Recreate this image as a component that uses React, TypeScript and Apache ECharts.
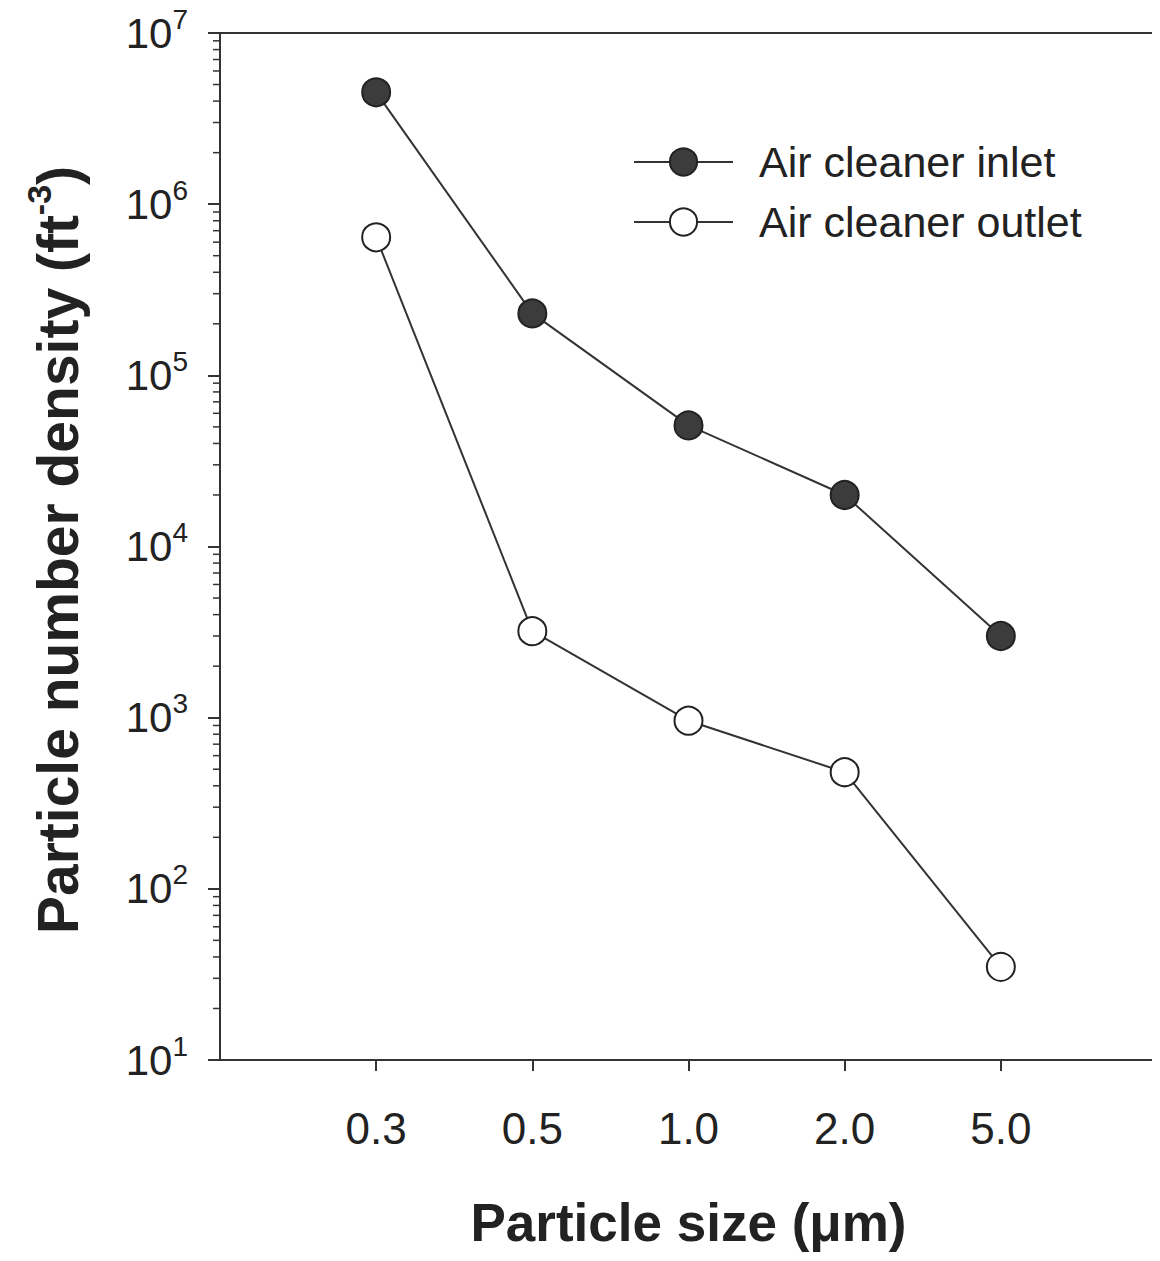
import React, { useEffect, useRef } from "react";
import * as echarts from "echarts";

const sizeLabels = ["0.3", "0.5", "1.0", "2.0", "5.0"];
const inletValues = [4.5e6, 2.3e5, 5.1e4, 2.0e4, 3.0e3];
const outletValues = [6.4e5, 3.2e3, 960, 480, 35];
const yExponents = [1, 2, 3, 4, 5, 6, 7];
const seriesNames = ["Air cleaner inlet", "Air cleaner outlet"];

const FONT = "'Liberation Sans', Arial, Helvetica, sans-serif";
const INK = "#222";

export default function App() {
  const ref = useRef<HTMLDivElement>(null);
  useEffect(() => {
    if (!ref.current) return;
    const chart = echarts.init(ref.current, undefined, { renderer: "svg" });

    const minorTicks: number[][] = [];
    for (let e = yExponents[0]; e < yExponents[yExponents.length - 1]; e++) {
      for (let k = 2; k <= 9; k++) minorTicks.push([0, k * Math.pow(10, e)]);
    }

    const option: any = {
      animation: false,
      backgroundColor: "#fff",
      textStyle: { fontFamily: FONT },
      grid: {
        left: 220,
        top: 33,
        right: 3,
        bottom: 201,
        show: true,
        borderColor: "#333",
        borderWidth: 2,
        backgroundColor: "transparent",
      },
      legend: {
        orient: "vertical",
        left: 628,
        top: 135,
        data: seriesNames,
        itemWidth: 99,
        itemHeight: 34,
        itemGap: 16,
        textStyle: {
          fontFamily: FONT,
          fontSize: 43,
          color: INK,
          lineHeight: 44,
          padding: [0, 0, 0, 21],
        },
      },
      xAxis: {
        type: "value",
        min: 0,
        max: 6,
        interval: 1,
        name: "Particle size (μm)",
        nameLocation: "middle",
        nameGap: 136,
        nameTextStyle: { fontFamily: FONT, fontSize: 53, fontWeight: "bold", color: INK },
        axisLine: { show: true, onZero: false, lineStyle: { color: "#333", width: 2 } },
        axisTick: { show: true, inside: false, length: 11, customValues: [1, 2, 3, 4, 5], lineStyle: { color: "#333", width: 2 } },
        axisLabel: {
          customValues: [1, 2, 3, 4, 5],
          formatter: (v: number) => sizeLabels[Math.round(v) - 1] ?? "",
          fontFamily: FONT,
          fontSize: 44,
          color: INK,
          margin: 46,
        },
        splitLine: { show: false },
      },
      yAxis: {
        type: "log",
        logBase: 10,
        min: 10,
        max: 1e7,
        axisLine: { show: true, onZero: false, lineStyle: { color: "#333", width: 2 } },
        axisTick: { show: true, inside: false, length: 12, lineStyle: { color: "#333", width: 2 } },
        minorTick: { show: false },
        axisLabel: {
          margin: 32,
          formatter: (v: number) => `{b|10}{s|${Math.round(Math.log10(v))}}`,
          rich: {
            b: { fontFamily: FONT, fontSize: 42, color: INK, lineHeight: 56 },
            s: { fontFamily: FONT, fontSize: 28, color: INK, lineHeight: 28, verticalAlign: "top" },
          },
        },
        splitLine: { show: false },
      },
      graphic: [
        {
          type: "text",
          x: 58,
          y: 550,
          rotation: Math.PI / 2,
          style: {
            text: "{t|Particle number density (ft}{s|-3}{t|)}",
            align: "center",
            verticalAlign: "middle",
            rich: {
              t: { fontFamily: FONT, fontSize: 57, fontWeight: "bold", fill: INK, lineHeight: 72 },
              s: { fontFamily: FONT, fontSize: 34, fontWeight: "bold", fill: INK, lineHeight: 34, verticalAlign: "top" },
            },
          },
        },
      ],
      series: [
        {
          name: seriesNames[0],
          type: "line",
          data: inletValues.map((v, i) => [i + 1, v]),
          symbol: "circle",
          symbolSize: 28,
          lineStyle: { color: "#333", width: 2 },
          itemStyle: { color: "#3c3c3c", borderColor: "#222", borderWidth: 2 },
          z: 3,
        },
        {
          name: seriesNames[1],
          type: "line",
          data: outletValues.map((v, i) => [i + 1, v]),
          symbol: "circle",
          symbolSize: 28,
          lineStyle: { color: "#333", width: 2 },
          itemStyle: { color: "#fff", borderColor: "#222", borderWidth: 2 },
          z: 3,
        },
        {
          name: "minorTicks",
          type: "custom",
          silent: true,
          clip: false,
          data: minorTicks,
          renderItem: (params: any, api: any) => {
            const p = api.coord([api.value(0), api.value(1)]);
            return {
              type: "line",
              shape: { x1: p[0] - 7, y1: p[1], x2: p[0], y2: p[1] },
              style: { stroke: "#333", lineWidth: 1.5 },
            };
          },
          z: 5,
        },
      ],
    };
    chart.setOption(option);
    return () => chart.dispose();
  }, []);
  return <div ref={ref} style={{ width: 1160, height: 1261, margin: -8 }} />;
}
